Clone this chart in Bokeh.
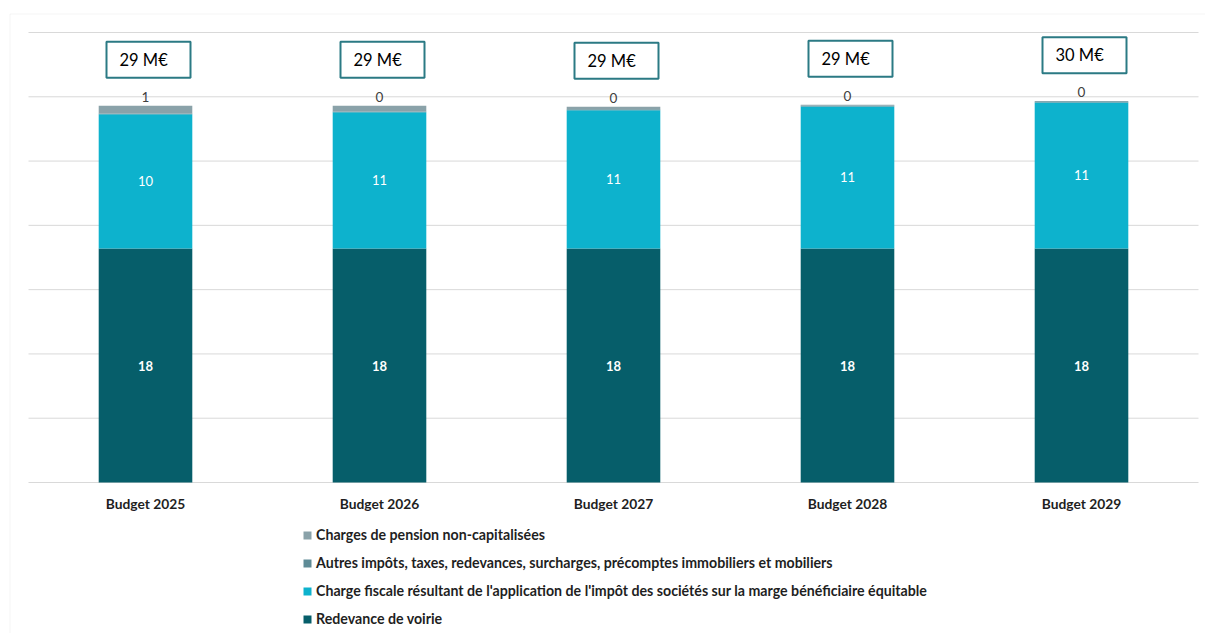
from bokeh.plotting import figure
from bokeh.models import Range1d, Legend, LegendItem, ColumnDataSource, BoxAnnotation
from bokeh.core.properties import value
from bokeh.embed import file_html
from bokeh.resources import INLINE

categories = ["Budget 2025", "Budget 2026", "Budget 2027", "Budget 2028", "Budget 2029"]
redevance_voirie = [18.2, 18.2, 18.2, 18.2, 18.2]
charge_fiscale = [10.45, 10.6, 10.76, 11.05, 11.36]
autres_impots = [0.05, 0.05, 0.08, 0.08, 0.10]
charges_pension = [0.60, 0.45, 0.18, 0.05, 0.00]

series_keys = ["redevance", "charge", "autres", "pension"]
series_names = [
    "Redevance de voirie",
    "Charge fiscale résultant de l'application de l'impôt des sociétés sur la marge bénéficiaire équitable",
    "Autres impôts, taxes, redevances, surcharges, précomptes immobiliers et mobiliers",
    "Charges de pension non-capitalisées",
]
colors = ["#065E6A", "#0DB2CD", "#5E8B96", "#8AA2A9"]
y_ticks = [0, 5, 10, 15, 20, 25, 30, 35]

FONT = "Lato"
GRID = "#D9D9D9"
W, H = 1205, 633
PLOT_LEFT, PLOT_RIGHT = 28, 1198      # plot area in canvas px
PLOT_TOP, PLOT_BOTTOM = 32, 482
PX_X = (PLOT_RIGHT - PLOT_LEFT) / len(categories)
PX_Y = (PLOT_BOTTOM - PLOT_TOP) / y_ticks[-1]

n = len(categories)
xs = [i + 0.5 for i in range(n)]
totals = [a + b + c + d for a, b, c, d in zip(redevance_voirie, charge_fiscale, autres_impots, charges_pension)]

src = ColumnDataSource(dict(
    x=xs,
    redevance=redevance_voirie,
    charge=charge_fiscale,
    autres=autres_impots,
    pension=charges_pension,
))

p = figure(x_range=Range1d(-PLOT_LEFT / PX_X, (W - PLOT_LEFT) / PX_X),
           y_range=Range1d(-(H - PLOT_BOTTOM) / PX_Y, PLOT_BOTTOM / PX_Y),
           width=W, height=H, output_backend="svg", toolbar_location=None,
           min_border=0, min_border_left=0, min_border_right=0,
           min_border_top=0, min_border_bottom=0)
p.outline_line_color = None
p.background_fill_color = "white"
p.border_fill_color = "white"
p.xaxis.visible = False
p.yaxis.visible = False
p.xgrid.visible = False
p.ygrid.visible = False

# grid lines (limited to plot area)
p.segment(x0=[0] * len(y_ticks), x1=[n] * len(y_ticks), y0=y_ticks, y1=y_ticks,
          line_color=GRID, line_width=1)

renderers = p.vbar_stack(series_keys, x="x", width=0.4, fill_color=colors,
                         line_color=None, source=src)

# data labels
red_lab = ColumnDataSource(dict(x=xs, y=[v / 2 for v in redevance_voirie],
                                t=[str(round(v)) for v in redevance_voirie]))
p.text(x="x", y="y", text="t", source=red_lab, text_align="center", text_baseline="middle",
       text_color="white", text_font=value(FONT), text_font_size="13px", text_font_style="bold")

cf_lab = ColumnDataSource(dict(x=xs,
                               y=[a + b / 2 for a, b in zip(redevance_voirie, charge_fiscale)],
                               t=[str(round(v)) for v in charge_fiscale]))
p.text(x="x", y="y", text="t", source=cf_lab, text_align="center", text_baseline="middle",
       text_color="white", text_font=value(FONT), text_font_size="13px")

pen_lab = ColumnDataSource(dict(x=xs, y=[t + 9 / PX_Y for t in totals],
                                t=[str(round(v)) for v in charges_pension]))
p.text(x="x", y="y", text="t", source=pen_lab, text_align="center", text_baseline="middle",
       text_color="#404040", text_font=value(FONT), text_font_size="13.5px")

# total boxes
box_src = ColumnDataSource(dict(x=[x + 3 / PX_X for x in xs], y=[t + 46 / PX_Y for t in totals],
                                t=[f"{round(t)} M€" for t in totals]))
p.rect(x="x", y="y", width=84, height=36, width_units="screen", height_units="screen",
       source=box_src, fill_color="white", line_color="#2B7A84", line_width=2)
p.text(x="x", y="y", text="t", source=box_src, text_align="left", text_baseline="middle",
       x_offset=-29, text_color="black", text_font=value(FONT), text_font_size="16.5px")

# category labels
cat_src = ColumnDataSource(dict(x=xs, y=[-21 / PX_Y] * n, t=categories))
p.text(x="x", y="y", text="t", source=cat_src, text_align="center", text_baseline="middle",
       text_color="#1F1F1F", text_font=value(FONT), text_font_size="13.8px",
       text_font_style="bold")

# legend
items = [LegendItem(label=nm, renderers=[r]) for nm, r in zip(series_names, renderers)][::-1]
legend = Legend(items=items, location=(302, 4), orientation="vertical",
                glyph_width=10, glyph_height=10, label_height=21, spacing=7,
                label_standoff=4, padding=0, margin=0, border_line_color=None,
                background_fill_alpha=0, label_text_font=FONT, label_text_font_size="14.2px",
                label_text_font_style="bold", label_text_color="#1F1F1F")
p.add_layout(legend)

# outer frame
p.add_layout(BoxAnnotation(left=9.5, right=W + 50, top=13.5, bottom=H + 50,
                           left_units="canvas", right_units="canvas",
                           top_units="canvas", bottom_units="canvas",
                           fill_alpha=0, line_color=GRID, line_width=1))

open("out.html", "w").write(file_html(p, INLINE))
